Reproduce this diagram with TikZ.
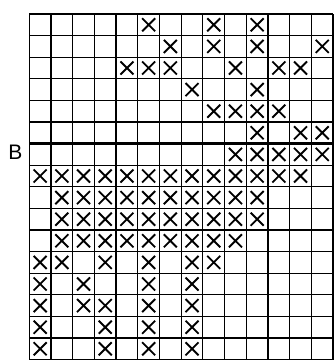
\documentclass[tikz,border=0pt]{standalone}
\usepackage{fontspec}
\setmainfont{Liberation Sans}
\begin{document}
\begin{tikzpicture}[x=1pt,y=-1pt,
  thinline/.style={line width=1.1pt,black},
  thickline/.style={line width=2.4pt,black},
  xmark/.style={line width=1.9pt,black,line cap=butt},
  lbl/.style={font=\fontsize{21}{21}\selectfont,inner sep=0pt}]
\useasboundingbox (0,0) rectangle (336,360);
\def\L{29.3}\def\T{14}\def\W{21.7}\def\H{21.6}
% grid lines
\foreach \c in {0,...,14} {
  \draw[thinline] ({\L+\c*\W},\T) -- ({\L+\c*\W},{\T+16*\H});
}
\foreach \r in {0,...,16} {
  \draw[thinline] (\L,{\T+\r*\H}) -- ({\L+14*\W},{\T+\r*\H});
}
\draw[thickline] ({\L+4*\W},\T) -- ({\L+4*\W},{\T+16*\H});
\draw[thickline] (\L,{\T+6*\H}) -- ({\L+14*\W},{\T+6*\H});
\draw[line width=2pt] ({\L+14*\W},\T) -- ({\L+14*\W},{\T+16*\H});
% marks: row/col lists
\foreach \r/\cols in {
  0/{5,8,10},
  1/{6,8,10,13},
  2/{4,5,6,9,11,12},
  3/{7,10},
  4/{8,9,10,11},
  5/{10,12,13},
  6/{9,10,11,12,13},
  7/{0,1,2,3,4,5,6,7,8,9,10,11,12},
  8/{1,2,3,4,5,6,7,8,9,10},
  9/{1,2,3,4,5,6,7,8,9,10},
  10/{1,2,3,4,5,6,7,8,9},
  11/{0,1,3,5,7,8},
  12/{0,2,5,7},
  13/{0,2,3,5,7},
  14/{0,3,5,7},
  15/{0,3,5,7}} {
  \foreach \c in \cols {
    \pgfmathsetmacro{\cx}{\L+(\c+0.5)*\W}
    \pgfmathsetmacro{\cy}{\T+(\r+0.5)*\H}
    \draw[xmark] (\cx-6.5,\cy-6.5) -- (\cx+6.5,\cy+6.5)
                 (\cx-6.5,\cy+6.5) -- (\cx+6.5,\cy-6.5);
  }
}
\node[lbl] (B) at (15.5,152.5) {B};
\end{tikzpicture}
\end{document}
